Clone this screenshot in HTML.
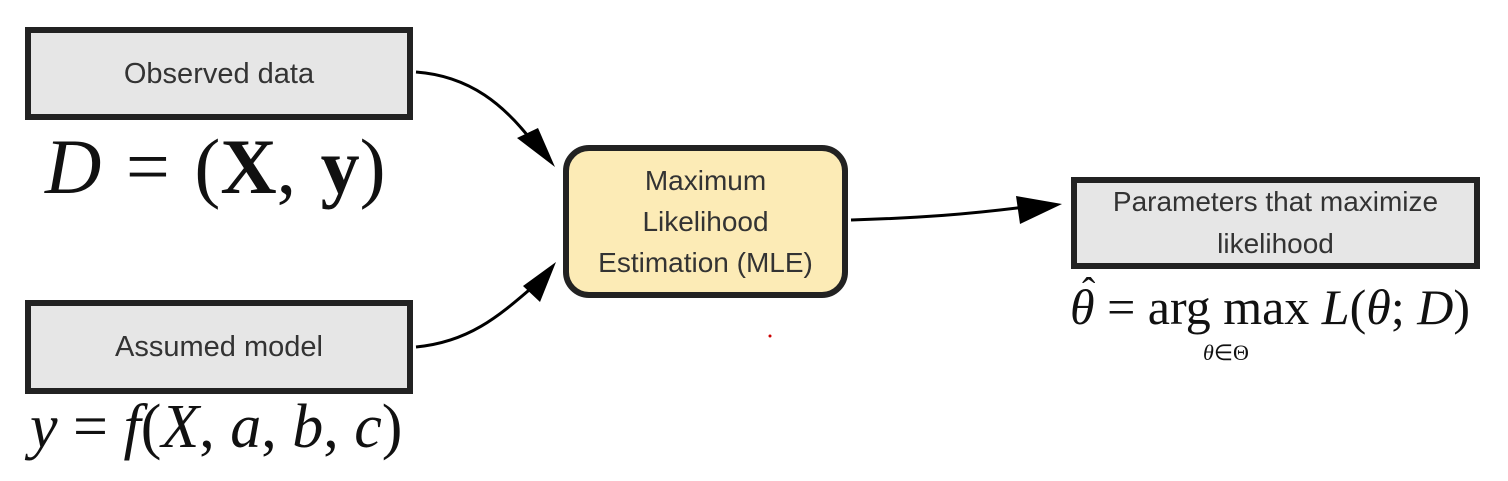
<!DOCTYPE html>
<html><head><meta charset="utf-8"><style>
body{margin:0;background:#fff;width:1508px;height:481px;position:relative;overflow:hidden;font-family:"Liberation Sans",sans-serif}
.box{position:absolute;box-sizing:border-box;border:6px solid #222;background:#e6e6e6;color:#333;display:flex;align-items:center;justify-content:center;text-align:center;font-size:29px;line-height:40px}
.m{position:absolute;font-family:"Liberation Serif",serif;color:#111;white-space:nowrap}
</style></head><body>
<div class="box" style="left:25px;top:27px;width:388px;height:93px">Observed data</div>
<div class="box" style="left:25px;top:300px;width:388px;height:94px">Assumed model</div>
<div class="box" style="left:563px;top:145px;width:285px;height:153px;border-radius:26px;background:#fcebb6;font-size:28px;line-height:41px">Maximum<br>Likelihood<br>Estimation (MLE)</div>
<div class="box" style="left:1071px;top:177px;width:409px;height:92px;line-height:42px;font-size:28px">Parameters that maximize<br>likelihood</div>
<div class="m" style="left:45px;top:122px;font-size:78px;word-spacing:5px"><i>D</i> = (<b>X</b>, <b>y</b>)</div>
<div class="m" style="left:30px;top:392px;font-size:62px"><i>y</i> = <i>f</i>(<i>X</i>, <i>a</i>, <i>b</i>, <i>c</i>)</div>
<div class="m" style="left:1070px;top:278px;font-size:50px"><i>θ</i> = arg max <i>L</i>(<i>θ</i>; <i>D</i>)</div>
<div class="m" style="left:1082px;top:268px;font-size:40px">ˆ</div>
<div class="m" style="left:1203px;top:340px;font-size:22px"><i>θ</i>∈Θ</div>
<svg width="1508" height="481" style="position:absolute;left:0;top:0">
<g fill="none" stroke="#000" stroke-width="3">
<path d="M416,72 C470,76 505,105 535,145"/>
<path d="M416,347 C470,342 500,315 535,285"/>
<path d="M851,220 C920,218 970,214 1025,207"/>
</g>
<path d="M555,167 L517,138 L538,128 Z" fill="#000"/>
<path d="M556,262 L540,302 L523,286 Z" fill="#000"/>
<path d="M1062,204 L1020,224 L1016,196 Z" fill="#000"/>
<circle cx="770" cy="336" r="1.5" fill="#c00"/>
</svg>
</body></html>
